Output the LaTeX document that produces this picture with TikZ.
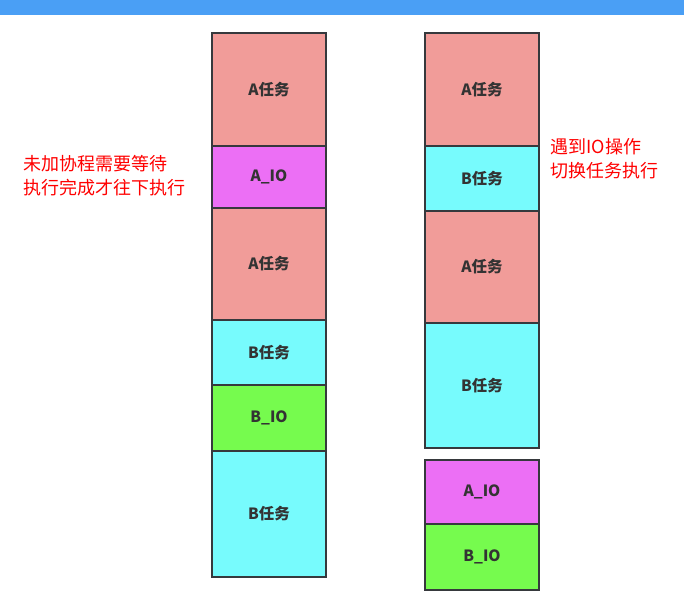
\documentclass[tikz,border=0pt]{standalone}
\usepackage{fontspec}
\newfontfamily\cjk{Noto Sans CJK SC}
\definecolor{banner}{HTML}{4A9FF5}
\definecolor{taskA}{HTML}{F19C99}
\definecolor{ioA}{HTML}{EC6FF5}
\definecolor{taskB}{HTML}{77FBFD}
\definecolor{ioB}{HTML}{76FB4E}
\definecolor{edge}{HTML}{36393D}
\definecolor{lbl}{HTML}{333333}
\begin{document}
\begin{tikzpicture}[x=1pt,y=-1pt,
  blk/.style={draw=edge,line width=1.2pt,font=\cjk\bfseries\fontsize{15.5}{18}\selectfont,text=lbl},
  note/.style={anchor=west,align=left,text=red,font=\cjk\fontsize{18}{24}\selectfont}]
\useasboundingbox (0,0) rectangle (684,597);
\fill[banner] (0,0) rectangle (684,15);
\foreach \n/\x/\ya/\yb/\c/\t in {
  la1/212/33/146/taskA/A任务,
  la2/212/146/208/ioA/A\_IO,
  la3/212/208/320/taskA/A任务,
  la4/212/320/385/taskB/B任务,
  la5/212/385/451/ioB/B\_IO,
  la6/212/451/577/taskB/B任务,
  rb1/425/33/146/taskA/A任务,
  rb2/425/146/211/taskB/B任务,
  rb3/425/211/323/taskA/A任务,
  rb4/425/323/448/taskB/B任务,
  rb5/425/460/524/ioA/A\_IO,
  rb6/425/524/590/ioB/B\_IO}{
  \pgfmathsetmacro{\xb}{\x+114}
  \draw[blk,fill=\c] (\x,\ya) rectangle (\xb,\yb) node[midway] (\n) {\t};
}
\node[note] (n1) at (20,176) {未加协程需要等待\\执行完成才往下执行};
\node[note] (n2) at (547,159) {遇到IO操作\\切换任务执行};
\end{tikzpicture}
\end{document}
